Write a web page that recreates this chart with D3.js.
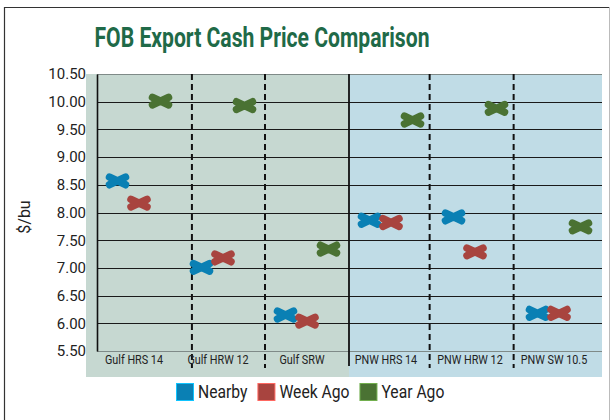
<!DOCTYPE html>
<html>
<head>
<meta charset="utf-8">
<script src="https://cdn.jsdelivr.net/npm/d3@7"></script>
<style>
  body { margin: 0; background: #fff; }
  text { font-family: Roboto, "Noto Sans", sans-serif; }
</style>
</head>
<body>
<div id="chart"></div>
<script>
// Data
const categories = ['Gulf HRS 14', 'Gulf HRW 12', 'Gulf SRW', 'PNW HRS 14', 'PNW HRW 12', 'PNW SW 10.5']
const series = ['Nearby', 'Week Ago', 'Year Ago']
const nearby = [8.57, 7.01, 6.15, 7.86, 7.92, 6.18]
const weekAgo = [8.17, 7.18, 6.04, 7.82, 7.29, 6.18]
const yearAgo = [10.01, 9.93, 7.34, 9.67, 9.88, 7.74]
const yTicks = [5.5, 6, 6.5, 7, 7.5, 8, 8.5, 9, 9.5, 10, 10.5]
// divider positions in category units (0 = left edge of first category)
const dividers = [1.13, 2, 3, 3.96, 4.96]
const solidDivider = 3

const colors = { 'Nearby': '#0a80b4', 'Week Ago': '#a8443f', 'Year Ago': '#4a7233' }

;(() => {
  const width = 614
  const height = 420
  const margin = { top: 74, right: 13, bottom: 69, left: 97 }
  const innerBottom = height - margin.bottom
  const innerRight = width - margin.right

  const svg = d3.select('#chart')
    .append('svg')
    .attr('width', width)
    .attr('height', height)

  // squeeze text a bit to look like a condensed face
  const condense = (sel, k) => sel.each(function () {
    const w = this.getComputedTextLength()
    d3.select(this).attr('textLength', w * k).attr('lengthAdjust', 'spacingAndGlyphs')
  })

  // Outer frame
  svg.append('line').attr('x1', 4.5).attr('x2', 4.5).attr('y1', 7).attr('y2', height).attr('stroke', '#333').attr('stroke-width', 1.2)
  svg.append('line').attr('x1', 4).attr('x2', 610).attr('y1', 7.5).attr('y2', 7.5).attr('stroke', '#333').attr('stroke-width', 1.2)
  svg.append('line').attr('x1', 609.5).attr('x2', 609.5).attr('y1', 7).attr('y2', height).attr('stroke', '#bbb').attr('stroke-width', 1)

  // Scales
  const x = d3.scaleBand().domain(categories).range([margin.left, innerRight])
  const xu = d3.scaleLinear().domain([0, categories.length]).range([margin.left, innerRight])
  const xs = d3.scalePoint().domain(series).range([-21.5, 21.5])
  const y = d3.scaleLinear().domain([5.5, 10.5]).range([innerBottom, margin.top])

  // Region backgrounds
  svg.append('rect')
    .attr('x', 86).attr('y', margin.top)
    .attr('width', xu(solidDivider) - 86).attr('height', 377 - margin.top)
    .attr('fill', '#c6d8d1')
  svg.append('rect')
    .attr('x', xu(solidDivider)).attr('y', margin.top)
    .attr('width', innerRight + 1 - xu(solidDivider)).attr('height', 377 - margin.top)
    .attr('fill', '#c0dce6')

  // Title
  svg.append('text')
    .attr('x', 262).attr('y', 47)
    .attr('text-anchor', 'middle')
    .attr('fill', '#1f6a48')
    .style('font-size', '27px')
    .style('font-weight', 'bold')
    .text('FOB Export Cash Price Comparison')
    .attr('textLength', 335).attr('lengthAdjust', 'spacingAndGlyphs')

  // Gridlines
  svg.append('g')
    .selectAll('line')
    .data(yTicks)
    .join('line')
    .attr('x1', margin.left).attr('x2', innerRight + 1)
    .attr('y1', d => Math.round(y(d)) + 0.5).attr('y2', d => Math.round(y(d)) + 0.5)
    .attr('stroke', d => (d === 5.5 || d === 10.5) ? '#7f8a88' : '#1a1a1a')
    .attr('stroke-width', 1)

  // Left axis - price
  const yAxis = svg.append('g')
    .attr('transform', `translate(${margin.left}, 0)`)
    .call(d3.axisLeft(y).tickValues(yTicks).tickFormat(d3.format('.2f')).tickSize(0).tickPadding(11))
  yAxis.select('.domain').attr('stroke', '#111').attr('stroke-width', 1.6)
  yAxis.selectAll('text')
    .attr('fill', '#222')
    .style('font-size', '15px')
    .style('font-family', 'Roboto, sans-serif')

  svg.append('text')
    .attr('transform', `translate(30, 217) rotate(-90)`)
    .attr('text-anchor', 'middle')
    .attr('fill', '#222')
    .style('font-size', '16px')
    .text('$/bu')

  // Category dividers
  svg.append('g')
    .selectAll('line')
    .data(dividers)
    .join('line')
    .attr('x1', d => xu(d)).attr('x2', d => xu(d))
    .attr('y1', margin.top).attr('y2', d => d === solidDivider ? 366 : 368)
    .attr('stroke', '#111')
    .attr('stroke-width', d => d === solidDivider ? 1.8 : 2)
    .attr('stroke-dasharray', d => d === solidDivider ? null : '6,4')

  // Category labels
  svg.append('g')
    .selectAll('text')
    .data(categories)
    .join('text')
    .attr('x', d => x(d) + x.bandwidth() / 2 - 5)
    .attr('y', 364)
    .attr('text-anchor', 'middle')
    .attr('fill', '#222')
    .style('font-size', '12px')
    .text(d => d)
    .call(condense, 0.9)

  // Markers - fat X, wider than tall
  const points = []
  const values = { 'Nearby': nearby, 'Week Ago': weekAgo, 'Year Ago': yearAgo }
  series.forEach(s => categories.forEach((c, i) => points.push({ s, c, v: values[s][i] })))

  const marker = 'M-8,-3.8L8,3.8M-8,3.8L8,-3.8M-5,0L5,0'
  svg.append('g')
    .selectAll('path')
    .data(points)
    .join('path')
    .attr('transform', d => `translate(${x(d.c) + x.bandwidth() / 2 + xs(d.s)}, ${y(d.v)})`)
    .attr('d', marker)
    .attr('fill', 'none')
    .attr('stroke', d => colors[d.s])
    .attr('stroke-width', 7.5)
    .attr('stroke-linecap', 'round')

  // Legend
  const legend = svg.append('g')
  let lx = 176
  series.forEach(s => {
    legend.append('rect')
      .attr('x', lx + 0.5).attr('y', 383.5)
      .attr('width', 17).attr('height', 17)
      .attr('fill', colors[s])
      .attr('stroke', d3.color(colors[s]).brighter(1.2))
      .attr('stroke-width', 1)
    const t = legend.append('text')
      .attr('x', lx + 22).attr('y', 398)
      .attr('fill', '#222')
      .style('font-size', '18px')
      .text(s)
      .call(condense, 0.87)
    lx += 22 + +t.attr('textLength') + 10
  })
})()
</script>
</body>
</html>
